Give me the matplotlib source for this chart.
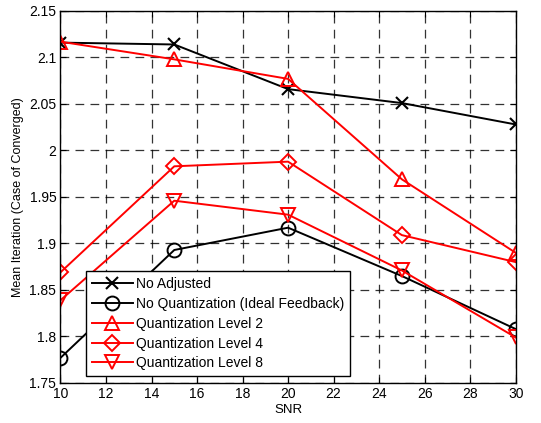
import matplotlib
matplotlib.use("Agg")
import matplotlib.pyplot as plt

plt.rcParams['font.family'] = ['Liberation Sans', 'DejaVu Sans']

snr = [10, 15, 20, 25, 30]
no_adjusted = [2.116, 2.114, 2.066, 2.051, 2.028]
no_quant = [1.777, 1.893, 1.917, 1.865, 1.808]
q2 = [2.117, 2.098, 2.077, 1.969, 1.890]
q4 = [1.869, 1.983, 1.988, 1.909, 1.880]
q8 = [1.839, 1.946, 1.931, 1.871, 1.799]

labels = ["No Adjusted", "No Quantization (Ideal Feedback)",
          "Quantization Level 2", "Quantization Level 4", "Quantization Level 8"]

fig = plt.figure(figsize=(5.41, 4.23), dpi=100)
ax = fig.add_axes([0.1118, 0.0946, 0.8414, 0.8794])

lw = 1.4
ax.plot(snr, no_adjusted, color='black', lw=lw, marker='x', ms=9, mew=1.5, label=labels[0])
ax.plot(snr, no_quant, color='black', lw=lw, marker='o', ms=10, mfc='none', mew=1.4, label=labels[1])
ax.plot(snr, q2, color='red', lw=lw, marker='^', ms=10, mfc='none', mew=1.4, label=labels[2])
ax.plot(snr, q4, color='red', lw=lw, marker='D', ms=8, mfc='none', mew=1.4, label=labels[3])
ax.plot(snr, q8, color='red', lw=lw, marker='v', ms=10, mfc='none', mew=1.4, label=labels[4])

ax.set_xlim(10, 30)
ax.set_ylim(1.75, 2.15)
ax.set_xticks(range(10, 31, 2))
ax.set_yticks([1.75, 1.8, 1.85, 1.9, 1.95, 2.0, 2.05, 2.1, 2.15])
ax.set_yticklabels(['1.75', '1.8', '1.85', '1.9', '1.95', '2', '2.05', '2.1', '2.15'])
ax.tick_params(labelsize=10, direction='in', top=True, right=True, length=4, pad=3)
ax.grid(True, color='black', linestyle=(0, (7, 5)), lw=0.9, alpha=0.8)
for s in ax.spines.values():
    s.set_linewidth(1.0)

ax.set_xlabel("SNR", fontsize=9.5, labelpad=2)
ax.set_ylabel("Mean Iteration (Case of Converged)", fontsize=9, labelpad=4)

leg = ax.legend(loc='lower left', bbox_to_anchor=(0.056, 0.019), borderaxespad=0,
                fontsize=10, fancybox=False, edgecolor='black', framealpha=1,
                handlelength=3.0, labelspacing=0.42, borderpad=0.4, handletextpad=0.2)
leg.get_frame().set_linewidth(1.0)

fig.savefig("out.png", dpi=100)
